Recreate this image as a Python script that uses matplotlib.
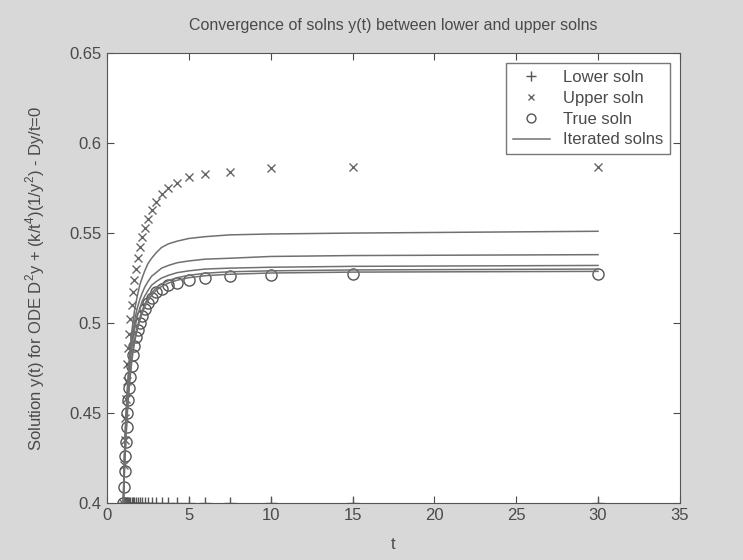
import matplotlib
matplotlib.use("Agg")
import matplotlib.pyplot as plt

# sample points t = 30/n
t = [1.0, 1.034, 1.071, 1.111, 1.154, 1.2, 1.25, 1.304, 1.364, 1.429,
     1.5, 1.579, 1.667, 1.765, 1.875, 2.0, 2.143, 2.308, 2.5, 2.727,
     3.0, 3.333, 3.75, 4.286, 5.0, 6.0, 7.5, 10.0, 15.0, 30.0]

lower = [0.4] * 30

upper = [0.4, 0.421, 0.435, 0.447, 0.458, 0.468, 0.477, 0.486, 0.494, 0.502,
         0.510, 0.517, 0.524, 0.530, 0.536, 0.542, 0.548, 0.553, 0.558, 0.563,
         0.567, 0.572, 0.575, 0.578, 0.581, 0.583, 0.584, 0.586, 0.5865, 0.587]

true = [0.4, 0.409, 0.418, 0.426, 0.434, 0.442, 0.45, 0.457, 0.464, 0.47,
        0.476, 0.482, 0.487, 0.492, 0.496, 0.5, 0.504, 0.508, 0.511, 0.514,
        0.517, 0.519, 0.521, 0.5225, 0.524, 0.525, 0.526, 0.5265, 0.527, 0.5275]

iter1 = [0.4, 0.415, 0.427, 0.437, 0.447, 0.456, 0.464, 0.472, 0.48, 0.487,
         0.494, 0.5, 0.506, 0.511, 0.516, 0.521, 0.525, 0.529, 0.533, 0.536,
         0.539, 0.542, 0.544, 0.5455, 0.547, 0.548, 0.549, 0.5495, 0.550, 0.551]

iter2 = [0.4, 0.416, 0.428, 0.438, 0.447, 0.455, 0.463, 0.47, 0.477, 0.483,
         0.489, 0.495, 0.5, 0.505, 0.509, 0.513, 0.5165, 0.52, 0.523, 0.526,
         0.528, 0.5305, 0.532, 0.5335, 0.5345, 0.5355, 0.536, 0.537, 0.5375, 0.538]

iter3 = [0.4, 0.4145, 0.426, 0.436, 0.4445, 0.452, 0.4595, 0.4665, 0.473, 0.479,
         0.485, 0.4905, 0.4955, 0.5, 0.5045, 0.508, 0.512, 0.515, 0.518, 0.521,
         0.523, 0.525, 0.5265, 0.528, 0.529, 0.53, 0.5305, 0.531, 0.5315, 0.532]

iter4 = [0.4, 0.4102, 0.4195, 0.428, 0.4362, 0.4445, 0.4525, 0.4598, 0.4668, 0.473,
         0.479, 0.4848, 0.4898, 0.4945, 0.4988, 0.5028, 0.5068, 0.5105, 0.5138, 0.5168,
         0.5195, 0.5217, 0.5236, 0.5252, 0.5265, 0.5277, 0.5285, 0.529, 0.5295, 0.530]

iter5 = [0.4, 0.4095, 0.4186, 0.4266, 0.4347, 0.4428, 0.4508, 0.458, 0.465, 0.4712,
         0.4772, 0.4832, 0.4882, 0.4929, 0.4972, 0.5012, 0.5052, 0.509, 0.5123, 0.5153,
         0.5181, 0.5203, 0.5222, 0.5238, 0.5252, 0.5263, 0.5271, 0.5278, 0.5283, 0.5287]

plt.rcParams['font.family'] = ['Liberation Sans Narrow', 'Liberation Sans', 'DejaVu Sans']
plt.rcParams['mathtext.fontset'] = 'custom'
plt.rcParams['mathtext.rm'] = 'Liberation Sans'

ink = '#4a4a4a'
fig = plt.figure(figsize=(7.43, 5.6), dpi=100, facecolor='#d8d8d8')
ax = fig.add_axes([0.144, 0.102, 0.771, 0.803])

ax.plot(t, lower, '+', color='#555555', ms=9, mew=1, label='Lower soln')
ax.plot(t, upper, 'x', color='#666666', ms=6, mew=1, label='Upper soln')
ax.plot(t, true, 'o', color='#555555', mfc='none', ms=8, mew=1, label='True soln')
first = True
for y in [iter1, iter2, iter3, iter4, iter5]:
    ax.plot(t, y, '-', color='#707070', lw=1.1, label='Iterated solns' if first else None)
    first = False

ax.set_xlim(0, 35)
ax.set_ylim(0.4, 0.65)
ax.set_xticks([0, 5, 10, 15, 20, 25, 30, 35])
ax.set_yticks([0.4, 0.45, 0.5, 0.55, 0.6, 0.65])
ax.set_yticklabels(['0.4', '0.45', '0.5', '0.55', '0.6', '0.65'])
ax.tick_params(direction='in', top=True, right=True, length=5, colors=ink,
               labelsize=12, pad=4)
for s in ax.spines.values():
    s.set_color('#555555')

ax.set_title('Convergence of solns y(t) between lower and upper solns',
             fontsize=11.5, color=ink, pad=17)
ax.set_xlabel('t', fontsize=12, color=ink, labelpad=10)
ax.set_ylabel('Solution y(t) for ODE D$^2$y + (k/t$^4$)(1/y$^2$) - Dy/t=0',
              fontsize=12, color=ink, labelpad=16)

leg = ax.legend(loc='upper right', fontsize=12, frameon=True, fancybox=False,
                edgecolor='#555555', borderpad=0.4, handlelength=2.2,
                labelspacing=0.35, borderaxespad=0.6, markerscale=0.8)
for txt in leg.get_texts():
    txt.set_color(ink)

fig.savefig('out.png', dpi=100, facecolor=fig.get_facecolor())
